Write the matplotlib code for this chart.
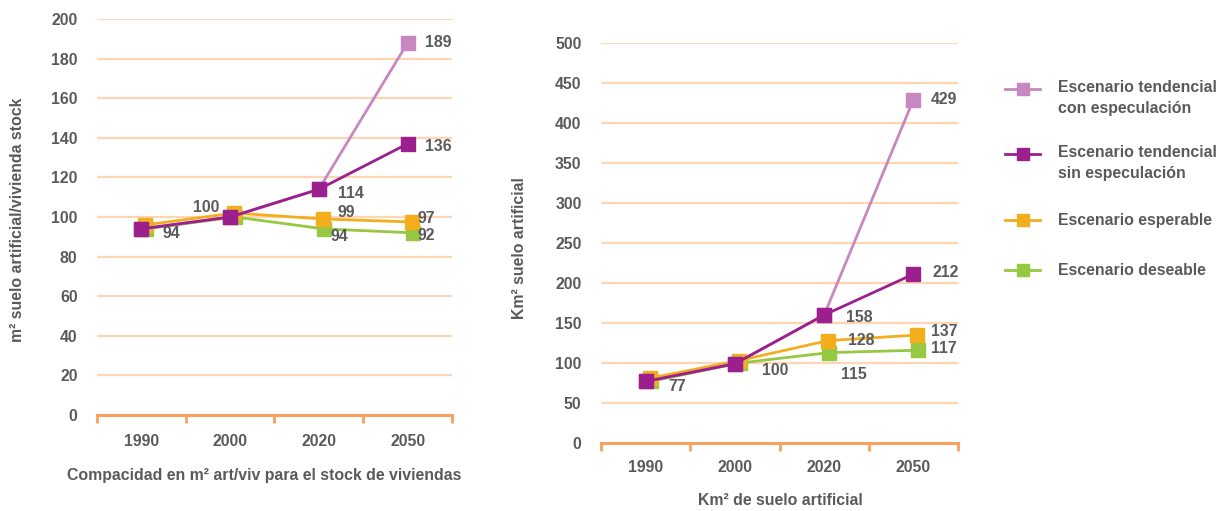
import matplotlib
matplotlib.use("Agg")
import matplotlib.pyplot as plt
from matplotlib.lines import Line2D
from matplotlib.transforms import offset_copy

plt.rcParams['font.family'] = ['Liberation Sans', 'DejaVu Sans']
plt.rcParams['font.weight'] = 'bold'

# ---------------- data ----------------
years = ['1990', '2000', '2020', '2050']

series_names = ['Escenario tendencial\ncon especulación',
                'Escenario tendencial\nsin especulación',
                'Escenario esperable',
                'Escenario deseable']

# Left: compacidad m2 art/viv
comp_con = [94, 100, 114, 188]
comp_sin = [94, 100, 114, 137]
comp_esp = [96, 102, 99, 97.5]
comp_des = [94, 100, 94, 92]

# Right: Km2 suelo artificial
km_con = [77, 99, 160, 429]
km_sin = [77, 99, 160, 211]
km_esp = [81, 103, 128, 135]
km_des = [77, 100, 113, 116]

left_yticks = [0, 20, 40, 60, 80, 100, 120, 140, 160, 180, 200]
right_yticks = [0, 50, 100, 150, 200, 250, 300, 350, 400, 450, 500]

# data labels: (series index, x index, text, dx px, dy px)
left_labels = [(1, 0, '94', 21, -5), (1, 1, '100', -11, 10), (1, 2, '114', 19, -4),
               (2, 2, '99', 19, 6), (3, 2, '94', 12, -8), (0, 3, '189', 17, 0),
               (1, 3, '136', 17, -3), (2, 3, '97', 10, 3), (3, 3, '92', 10, -3)]
right_labels = [(1, 0, '77', 23, -5), (1, 1, '100', 27, -7), (1, 2, '158', 22, -2),
                (2, 2, '128', 24, 0), (3, 2, '115', 17, -22), (0, 3, '429', 17, 0),
                (1, 3, '212', 19, 2), (2, 3, '137', 18, 4), (3, 3, '117', 18, 2)]

# ---------------- style ----------------
colors = ['#C987C2', '#9C1F8E', '#F2AE1C', '#96C841']
zorders = [4, 5, 3, 2]
xoff = [0, 0, 4, 5]
yoff = [0, 0, 0, 0]
text_color = '#5A5A5A'
grid_color = '#FDD6B5'
axis_color = '#F5A25E'
fs = 11.4

W, H = 1227, 511
fig = plt.figure(figsize=(W / 100, H / 100), dpi=100)


def fx(px):
    return px / W


def fy(py):
    return (H - py) / H


def make_axes(x0, x1, ytop, ybot, yticks, data, labels, xpad):
    ax = fig.add_axes([fx(x0), fy(ybot), fx(x1) - fx(x0), fy(ytop) - fy(ybot)])
    ax.set_xlim(-0.5, len(years) - 0.5)
    ax.set_ylim(yticks[0], yticks[-1])
    for s in ['top', 'right', 'left']:
        ax.spines[s].set_visible(False)
    ax.spines['bottom'].set_color(axis_color)
    ax.spines['bottom'].set_linewidth(2.2)
    ax.spines['bottom'].set_zorder(6)
    ax.set_yticks(yticks)
    ax.set_yticklabels([str(t) for t in yticks])
    ax.tick_params(axis='y', length=0, pad=14, labelsize=fs, labelcolor=text_color)
    for t in yticks[1:]:
        ax.axhline(t, color=grid_color, lw=1.6, zorder=0)
    ax.set_xticks(range(len(years)))
    ax.set_xticklabels(years)
    ax.tick_params(axis='x', length=0, pad=xpad, labelsize=fs, labelcolor=text_color)
    ax.set_xticks([i - 0.5 for i in range(len(years) + 1)], minor=True)
    ax.tick_params(axis='x', which='minor', length=6, width=2, color=axis_color,
                   direction='out')
    xs = list(range(len(years)))
    for i in [3, 2, 0, 1]:
        tr = offset_copy(ax.transData, fig=fig, x=xoff[i], y=yoff[i], units='dots')
        ax.plot(xs, data[i], color=colors[i], lw=2.0, marker='s', markersize=9.5,
                zorder=zorders[i], transform=tr, clip_on=False)
    for si, xi, txt, dx, dy in labels:
        ax.annotate(txt, (xi, data[si][xi]), xytext=(dx, dy), textcoords='offset pixels',
                    ha='left' if dx > 0 else 'right', va='center', fontsize=fs,
                    color=text_color, fontweight='bold', zorder=7)
    return ax


axl = make_axes(97, 452, 19, 415, left_yticks,
                [comp_con, comp_sin, comp_esp, comp_des], left_labels, 14)
axr = make_axes(601, 958, 43, 443, right_yticks,
                [km_con, km_sin, km_esp, km_des], right_labels, 12)

fig.text(fx(264), fy(475), 'Compacidad en m² art/viv para el stock de viviendas',
         ha='center', va='center', fontsize=fs, color=text_color, fontweight='bold')
fig.text(fx(780), fy(500), 'Km² de suelo artificial',
         ha='center', va='center', fontsize=fs, color=text_color, fontweight='bold')
fig.text(fx(18), fy(220), 'm² suelo artificial/vivienda stock', rotation=90,
         ha='center', va='center', fontsize=fs, color=text_color, fontweight='bold')
fig.text(fx(520), fy(248), 'Km² suelo artificial', rotation=90,
         ha='center', va='center', fontsize=fs, color=text_color, fontweight='bold')

# legend (manual)
leg_y = [89, 154, 220, 270]
for i, name in enumerate(series_names):
    y = fy(leg_y[i])
    fig.add_artist(Line2D([fx(1005), fx(1040)], [y, y], color=colors[i], lw=2.0,
                          transform=fig.transFigure))
    fig.add_artist(Line2D([fx(1022.5)], [y], color=colors[i], marker='s', markersize=8.5,
                          transform=fig.transFigure))
    if '\n' in name:
        fig.text(fx(1058), fy(leg_y[i] - 9), name, ha='left', va='top', fontsize=fs,
                 color=text_color, fontweight='bold', linespacing=1.5)
    else:
        fig.text(fx(1058), y, name, ha='left', va='center', fontsize=fs,
                 color=text_color, fontweight='bold')

fig.savefig('out.png', dpi=100, facecolor='white')
